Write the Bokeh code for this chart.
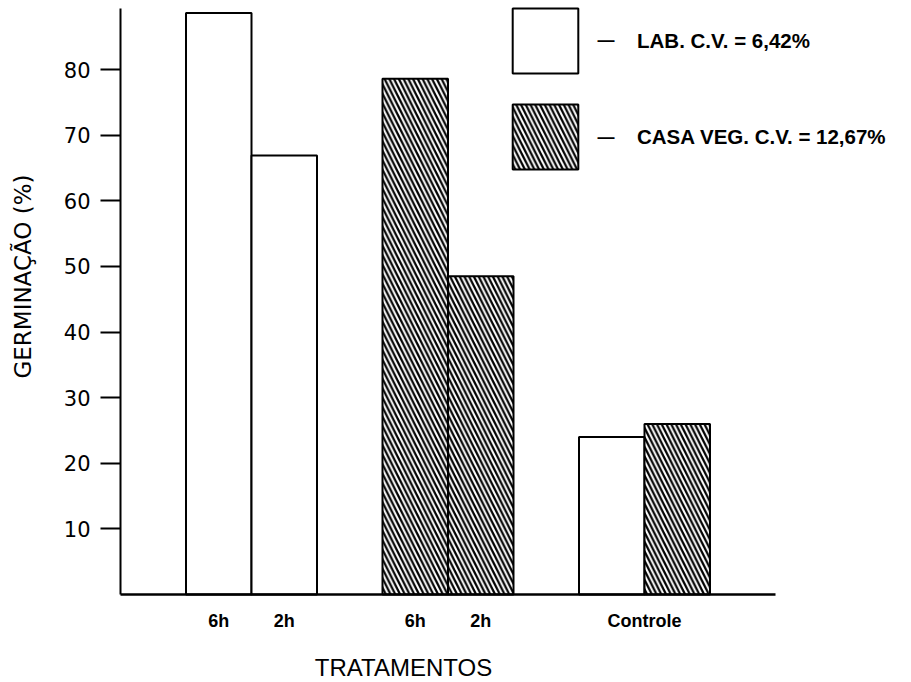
import math
from bokeh.plotting import figure
from bokeh.models import Range1d, FixedTicker, Legend, LegendItem, Label
from bokeh.embed import file_html
from bokeh.resources import INLINE

# ---- data ----
groups = ["LAB.", "CASA VEG."]
treatments = ["6h", "2h", "Controle"]
lab_values = [88.6, 66.9, 24.0]      # LAB: 6h, 2h, Controle
casa_values = [78.6, 48.5, 26.0]     # CASA VEG.: 6h, 2h, Controle
lab_cv = "6,42%"
casa_cv = "12,67%"
y_ticks = [10, 20, 30, 40, 50, 60, 70, 80]
x_tick_labels = ["6h", "2h", "6h", "2h", "Controle"]

# ---- layout (bar slots) ----
block_centers = [2, 5, 8]
lab_x = [block_centers[0] - 0.5, block_centers[0] + 0.5, block_centers[2] - 0.5]
casa_x = [block_centers[1] - 0.5, block_centers[1] + 0.5, block_centers[2] + 0.5]
x_tick_pos = [lab_x[0], lab_x[1], casa_x[0], casa_x[1], block_centers[2]]

X_AXIS_END = 10.0
Y_AXIS_END = 89.3

W, H = 911, 682
OX, OY = 120, 594          # canvas position of the data origin
PXU_X, PXU_Y = 65.5, 6.562  # pixels per data unit

x_range = Range1d(-OX / PXU_X, (W - OX) / PXU_X)
y_range = Range1d(-(H - OY) / PXU_Y, OY / PXU_Y)

p = figure(width=W, height=H, x_range=x_range, y_range=y_range,
           output_backend="svg", toolbar_location=None,
           min_border=0, min_border_left=0, min_border_right=0,
           min_border_top=0, min_border_bottom=0)
p.outline_line_color = None
p.grid.visible = False
p.background_fill_color = "white"
p.border_fill_color = "white"

r_lab = p.vbar(x=lab_x, top=lab_values, bottom=0, width=1.0,
               fill_color="white", line_color="black", line_width=2)
r_casa = p.vbar(x=casa_x, top=casa_values, bottom=0, width=1.0,
                fill_color="white", line_color="black", line_width=2,
                hatch_pattern="\\", hatch_color="black",
                hatch_scale=9.5, hatch_weight=2.2)

# axes, pinned at the data origin
yax = p.yaxis[0]
yax.fixed_location = 0
yax.bounds = (0, Y_AXIS_END)
yax.ticker = FixedTicker(ticks=y_ticks)
yax.minor_tick_line_color = None
yax.major_tick_in = 0
yax.major_tick_out = 20
yax.major_tick_line_width = 2
yax.axis_line_width = 2
yax.major_label_standoff = 10
yax.major_label_text_font = "DejaVu Sans"
yax.major_label_text_font_size = "21px"
yax.major_label_text_color = "black"

xax = p.xaxis[0]
xax.fixed_location = 0
xax.bounds = (0, X_AXIS_END)
xax.ticker = FixedTicker(ticks=x_tick_pos)
xax.major_label_overrides = {t: lab for t, lab in zip(x_tick_pos, x_tick_labels)}
xax.minor_tick_line_color = None
xax.major_tick_line_color = None
xax.major_tick_in = 0
xax.major_tick_out = 0
xax.axis_line_width = 2.5
xax.major_label_standoff = 16
xax.major_label_text_font = "Liberation Sans"
xax.major_label_text_font_style = "bold"
xax.major_label_text_font_size = "18px"
xax.major_label_text_color = "black"

# helpers to place decorations (canvas px -> data)
def dx(px):
    return (px - OX) / PXU_X

def dy(py):
    return (OY - py) / PXU_Y

# axis titles
p.add_layout(Label(x=dx(22), y=dy(276), text="GERMINAÇÃO (%)", angle=math.pi / 2,
                   text_align="center", text_baseline="middle",
                   text_font="DejaVu Sans", text_font_size="23px", text_color="black"))
p.add_layout(Label(x=dx(403), y=dy(667), text="TRATAMENTOS",
                   text_align="center", text_baseline="middle",
                   text_font="Liberation Sans", text_font_size="24px", text_color="black"))

# legend
legend = Legend(items=[
    LegendItem(label=f"{groups[0]} C.V. = {lab_cv}", renderers=[r_lab]),
    LegendItem(label=f"{groups[1]} C.V. = {casa_cv}", renderers=[r_casa]),
], location=(504, H - 177), orientation="vertical",
    glyph_width=82, glyph_height=81, spacing=15, padding=0, margin=0,
    label_standoff=51, label_text_font="Liberation Sans",
    label_text_font_style="bold", label_text_font_size="20.5px",
    label_text_color="black", border_line_color=None,
    background_fill_alpha=0)
p.add_layout(legend)

for py in (40, 137):
    p.add_layout(Label(x=dx(597), y=dy(py), text="—",
                       text_align="left", text_baseline="middle",
                       text_font="Liberation Sans", text_font_style="bold",
                       text_font_size="17px", text_color="black"))

open("out.html", "w").write(file_html(p, INLINE))
